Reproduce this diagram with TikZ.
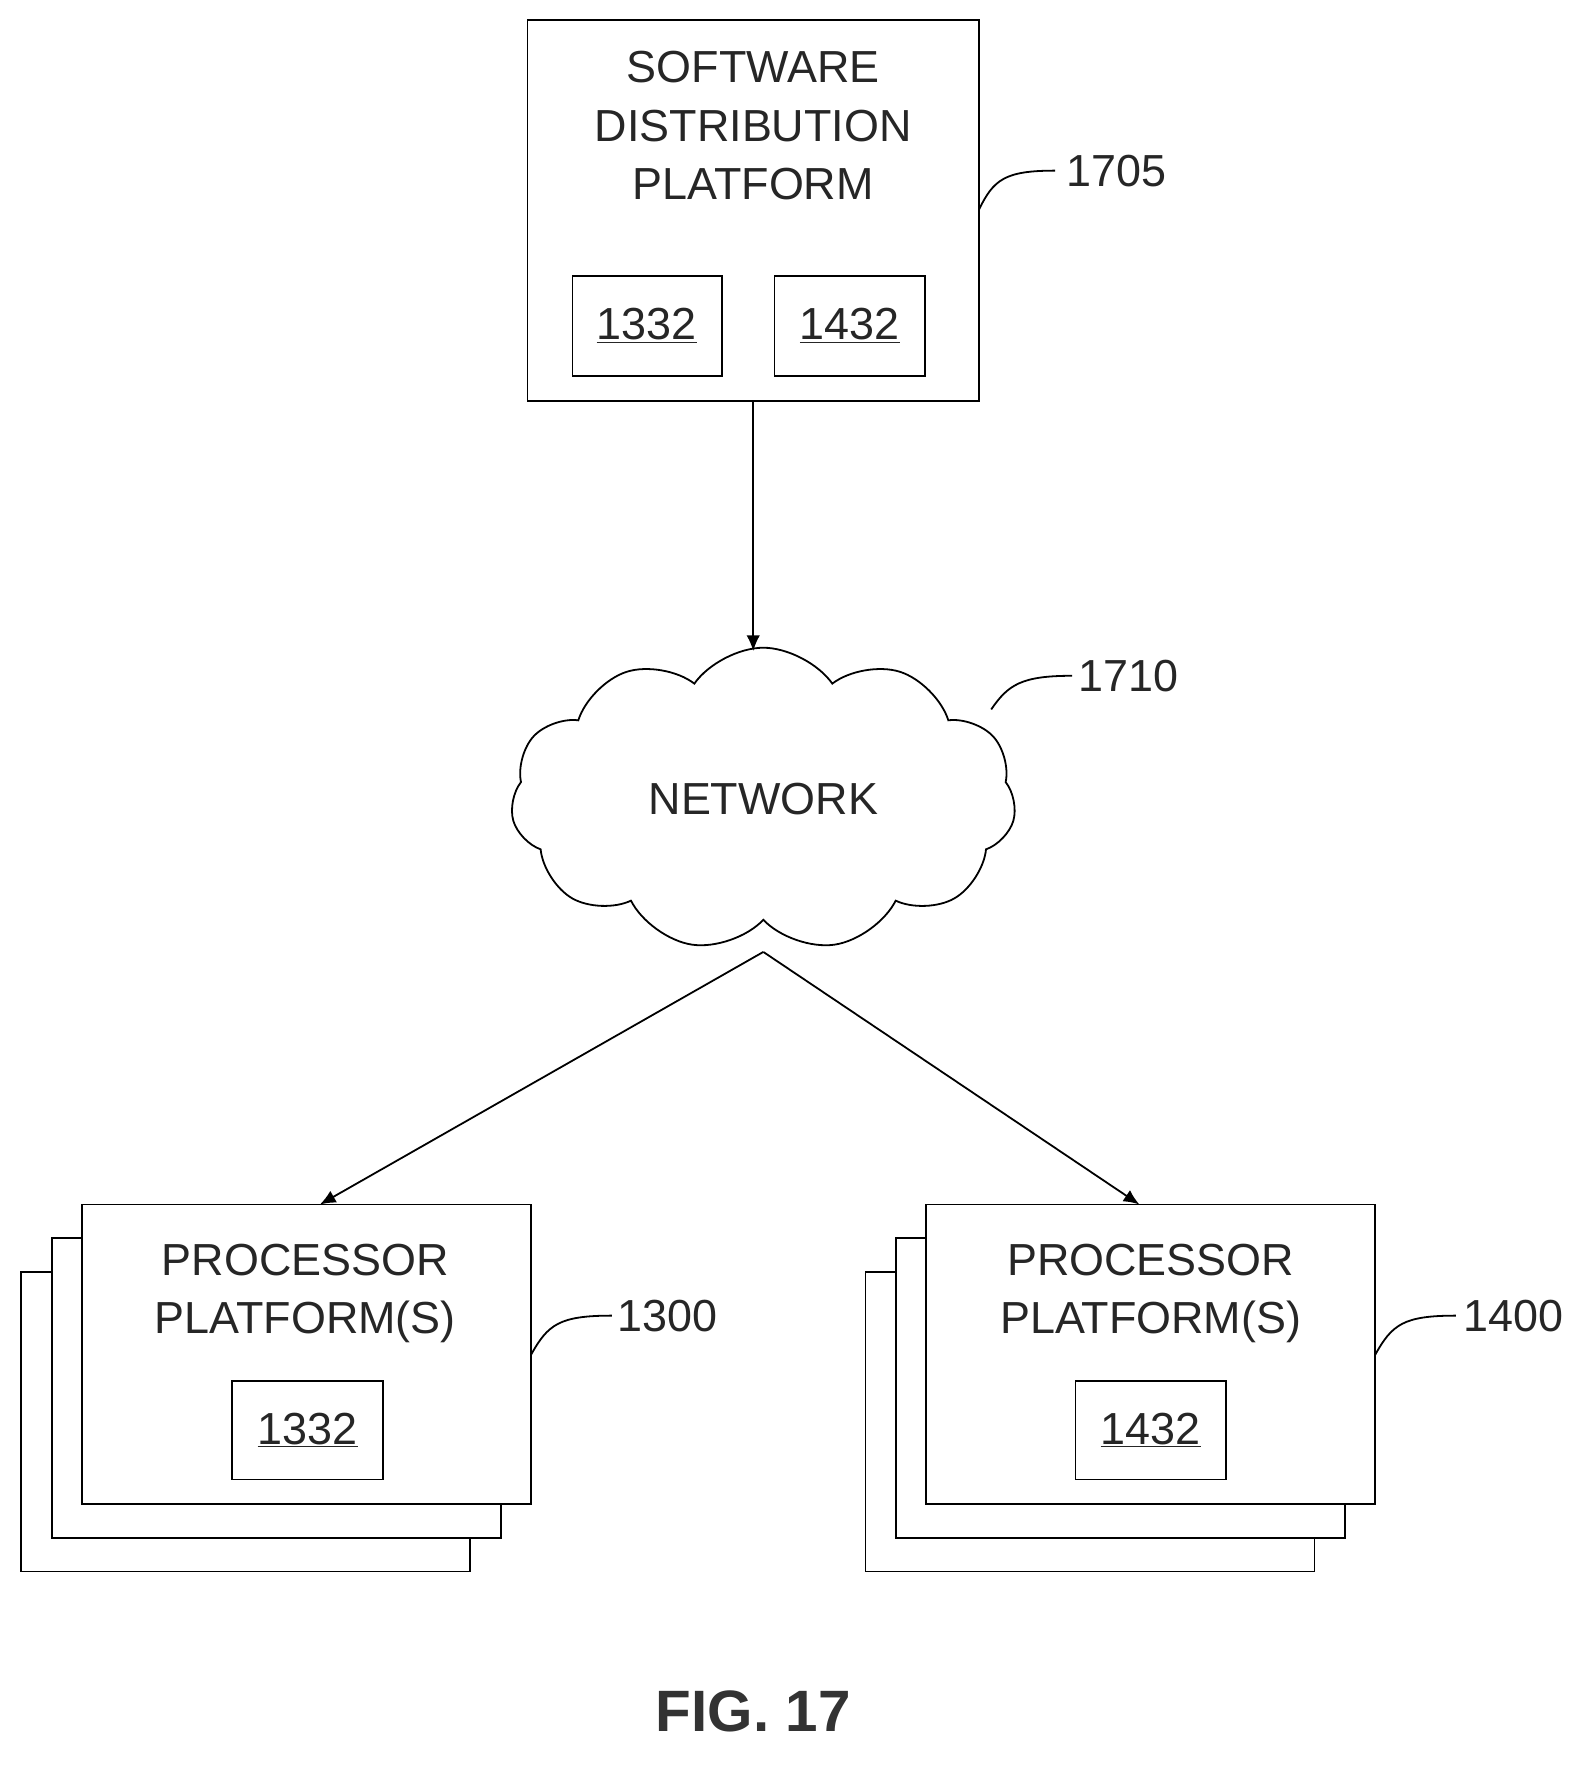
\documentclass[tikz,border=0pt]{standalone}
\usepackage{fontspec}
\setmainfont{Liberation Sans}
\usetikzlibrary{shapes.symbols,arrows.meta}
\begin{document}
\begin{tikzpicture}[x=1pt,y=-1pt,line width=1.6pt,
  txt/.style={font=\fontsize{40}{52}\selectfont,align=center,text=black!85},
  lbl/.style={font=\fontsize{40}{48}\selectfont,text=black!85},
  box/.style={draw,fill=white},
  arr/.style={-{Latex[length=14,width=12]}}]
\useasboundingbox (0,0) rectangle (1410,1575);
% top
\draw[box] (470,18) rectangle (872,357);
\node[txt] (sdp) at (671,112) {SOFTWARE\\DISTRIBUTION\\PLATFORM};
\draw[box] (510,246) rectangle (643,335);
\node[txt] (a1) at (576,290) {\underline{1332}};
\draw[box] (690,246) rectangle (824,335);
\node[txt] (a2) at (757,290) {\underline{1432}};
\node[lbl] (l1705) at (995,152) {1705};
\draw (872,187) .. controls (885,160) and (895,152) .. (940,152);
% cloud
\node[cloud,draw,cloud puffs=11,cloud puff arc=110,aspect=1.6,minimum width=450,minimum height=270,txt] (net) at (680,712) {NETWORK};
\node[lbl] (l1710) at (1005,602) {1710};
\draw (883,632) .. controls (898,610) and (910,602) .. (955,602);
\coordinate (top) at (671,357);
\draw[arr] (top) -- (671,580);
\coordinate (nb) at (680,848);
% left stack
\foreach \d in {2,1}{\draw[box] (73-27*\d,1073+30*\d) rectangle (473-27*\d,1340+30*\d);}
\draw[box] (73,1073) rectangle (473,1340);
\node[txt] (p1) at (272,1152) {PROCESSOR\\PLATFORM(S)};
\draw[box] (207,1230) rectangle (341,1318);
\node[txt] (b1) at (274,1274) {\underline{1332}};
\node[lbl] (l1300) at (595,1172) {1300};
\draw (473,1207) .. controls (488,1180) and (498,1172) .. (545,1172);
% right stack
\foreach \d in {2,1}{\draw[box] (825-27*\d,1073+30*\d) rectangle (1225-27*\d,1340+30*\d);}
\draw[box] (825,1073) rectangle (1225,1340);
\node[txt] (p2) at (1025,1152) {PROCESSOR\\PLATFORM(S)};
\draw[box] (958,1230) rectangle (1092,1318);
\node[txt] (b2) at (1025,1274) {\underline{1432}};
\node[lbl] (l1400) at (1348,1172) {1400};
\draw (1225,1207) .. controls (1240,1180) and (1250,1172) .. (1297,1172);
\draw[arr] (nb) -- (285,1073);
\draw[arr] (nb) -- (1015,1073);
\node[font=\fontsize{52}{60}\selectfont\bfseries,text=black!80] (fig) at (671,1525) {FIG. 17};
\end{tikzpicture}
\end{document}
